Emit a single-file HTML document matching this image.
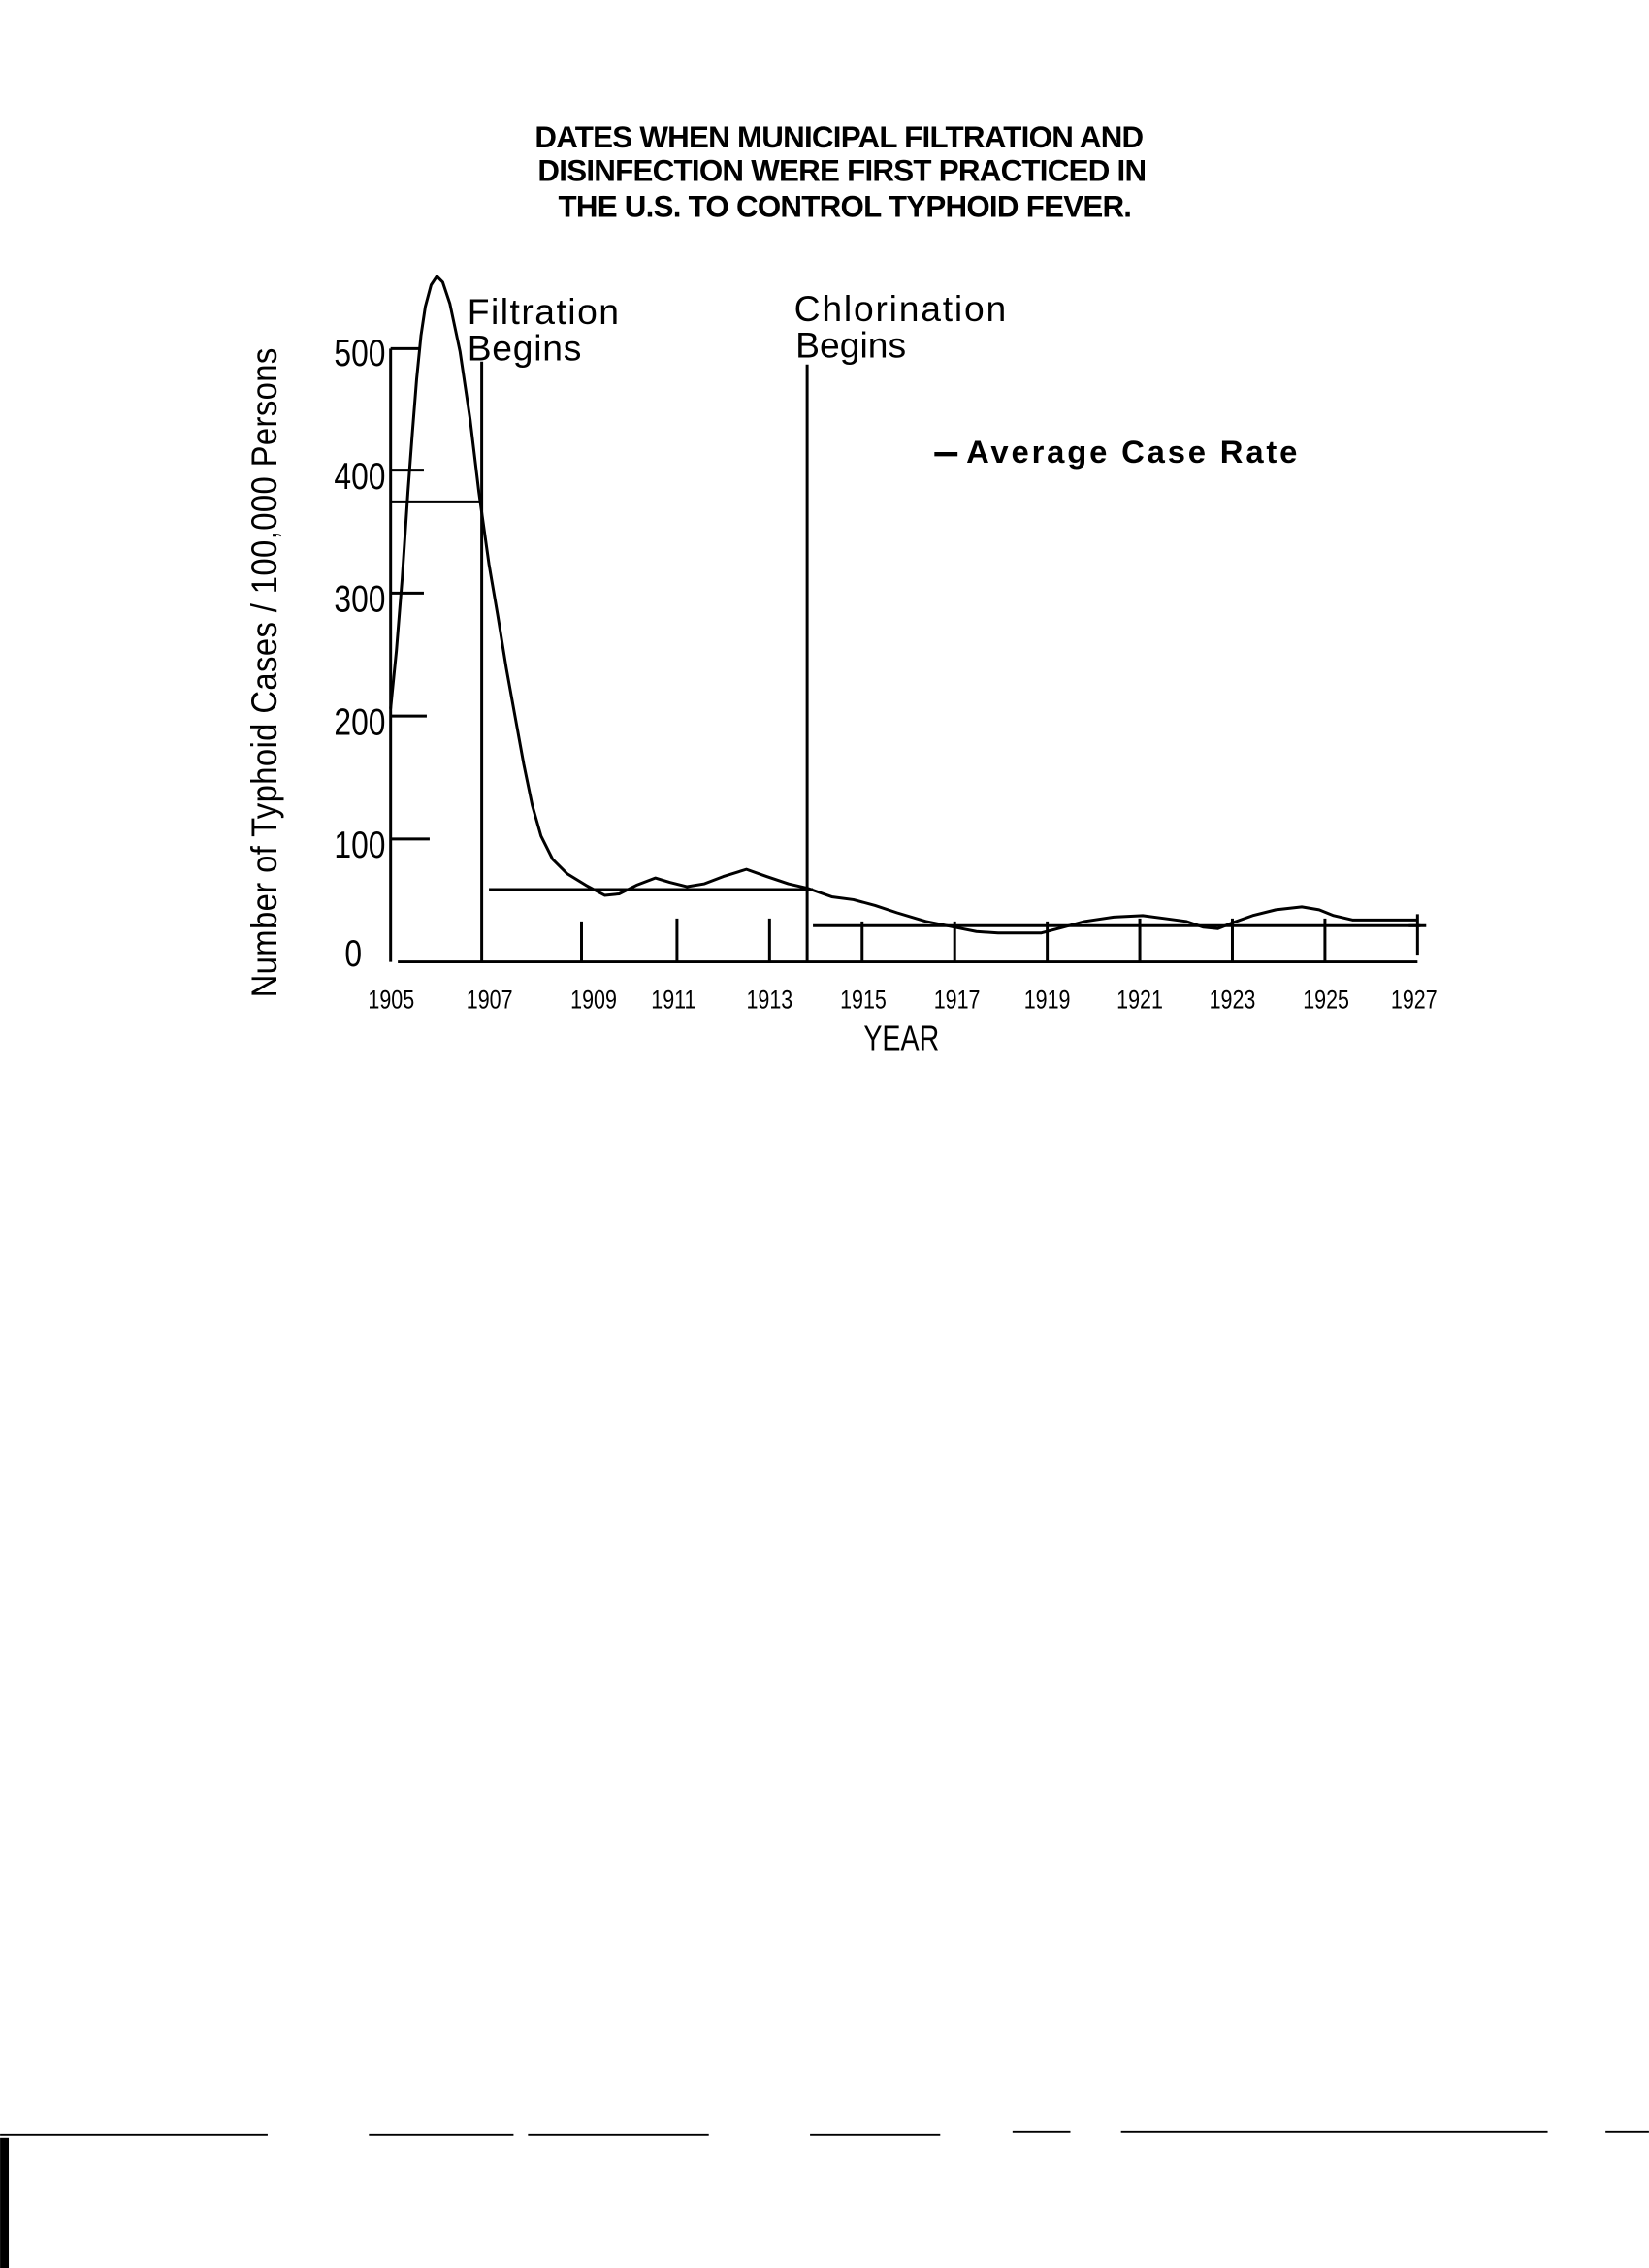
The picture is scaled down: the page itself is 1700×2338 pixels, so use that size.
<!DOCTYPE html>
<html><head><meta charset="utf-8"><style>
html,body{margin:0;padding:0;background:#fff;}
svg{display:block;}
text{font-family:"Liberation Sans",sans-serif;fill:#000;}
</style></head><body>
<svg width="1700" height="2338" viewBox="0 0 1140 1568" xmlns="http://www.w3.org/2000/svg">
<g font-weight="bold" font-size="21" text-anchor="middle" letter-spacing="-0.5">
<text x="580" y="102">DATES WHEN MUNICIPAL FILTRATION AND</text>
<text x="582" y="125">DISINFECTION WERE FIRST PRACTICED IN</text>
<text x="584" y="150">THE U.S. TO CONTROL TYPHOID FEVER.</text>
</g>
<g stroke="#000" stroke-width="2" fill="none">
<path d="M270 241 V665 M270 241 H290 M270 325 H293 M270 410 H293 M270 495 H295 M270 580 H297"/>
<path d="M275 665 H980"/>
<path d="M270 347 H333 M333 250 V665 M338 615 H562 M558 252 V665 M562 640 H982"/>
<path d="M402 637 V665 M468 635 V665 M532 635 V665 M596 637 V665 M660 637 V665 M724 637 V665 M788 635 V665 M852 635 V665 M916 635 V665 M980 632 V660 M974 640 H986"/>
<path d="M646 314 H662" stroke-width="3"/>
<polyline stroke-linejoin="round" points="270,490 274,450 278,400 282,340 285,300 288,262 291,232 294,212 298,197 302,191 306,195 311,210 318,243 325,290 331,340 338,390 344,425 350,462 356,495 362,528 368,557 374,578 382,594 392,604 405,612 418,619 428,618 440,612 453,607 463,610 475,613 487,611 500,606 516,601 530,606 545,611 558,614 575,620 590,622 605,626 620,631 640,637 660,641 675,644 690,645 705,645 720,645 735,641 750,637 770,634 790,633 805,635 820,637 832,641 842,642 852,638 866,633 882,629 900,627 912,629 922,633 935,636 980,636"/>
</g>
<g font-size="25">
<text x="323" y="224" letter-spacing="1">Filtration</text>
<text x="323" y="249" letter-spacing="0.5">Begins</text>
<text x="549" y="222" letter-spacing="1.2">Chlorination</text>
<text x="550" y="247">Begins</text>
<text x="668" y="320" font-weight="bold" font-size="22" letter-spacing="1.9">Average Case Rate</text>
</g>
<g font-size="26" text-anchor="end" transform="scale(0.82,1)">
<text x="325" y="253">500</text>
<text x="325" y="338">400</text>
<text x="325" y="423">300</text>
<text x="325" y="508">200</text>
<text x="325" y="593">100</text>
<text x="305" y="668">0</text>
</g>
<g font-size="18" text-anchor="middle" transform="scale(0.8,1)">
<text x="338" y="697">1905</text><text x="423" y="697">1907</text><text x="513" y="697">1909</text>
<text x="582" y="697">1911</text><text x="665" y="697">1913</text><text x="746" y="697">1915</text>
<text x="827" y="697">1917</text><text x="905" y="697">1919</text><text x="985" y="697">1921</text>
<text x="1065" y="697">1923</text><text x="1146" y="697">1925</text><text x="1222" y="697">1927</text>
<text x="779" y="726" font-size="24">YEAR</text>
</g>
<text transform="translate(191,465) rotate(-90) scale(0.88,1)" font-size="25" text-anchor="middle" letter-spacing="0.3">Number of Typhoid Cases / 100,000 Persons</text>
<g stroke="#000" stroke-width="1.3">
<path d="M0 1476 H185 M255 1476 H355 M365 1476 H490 M560 1476 H650 M700 1474 H740 M775 1474 H1070 M1110 1474 H1140"/>
</g>
<rect x="0" y="1478" width="6" height="90" fill="#000"/>
</svg>
</body></html>
